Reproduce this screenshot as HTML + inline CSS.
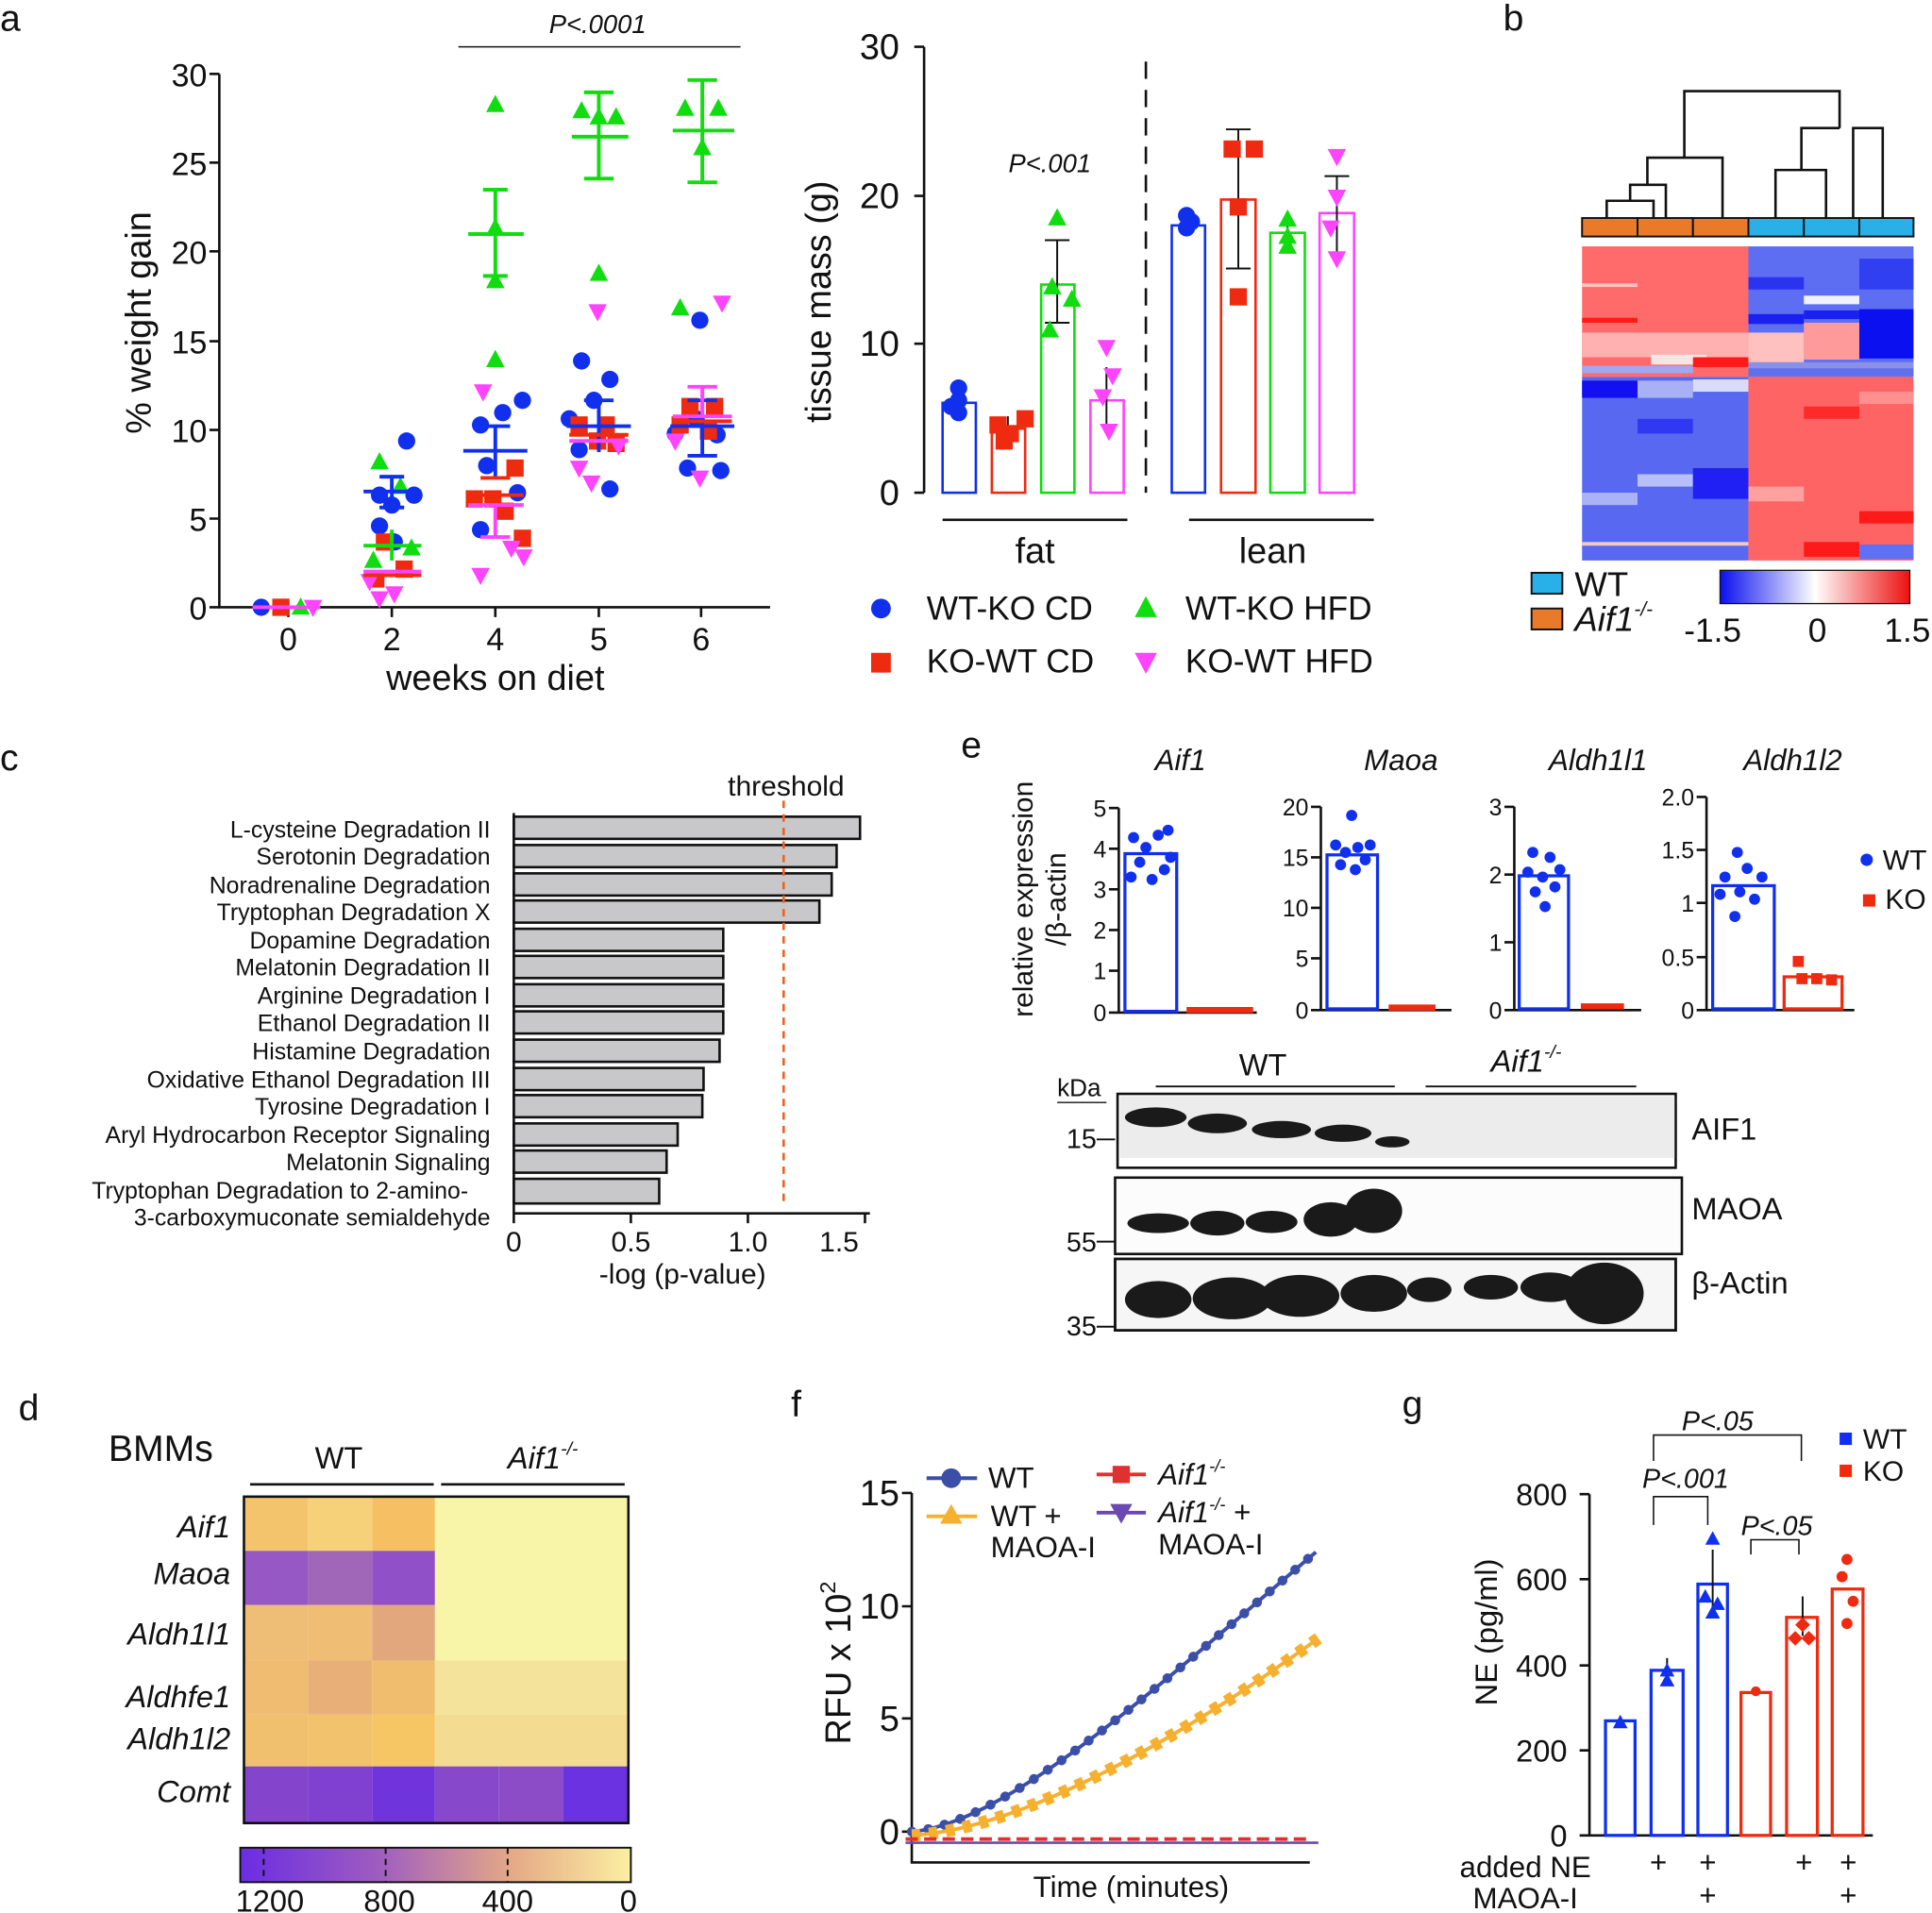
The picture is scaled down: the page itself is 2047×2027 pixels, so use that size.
<!DOCTYPE html>
<html><head><meta charset="utf-8"><style>
html,body{margin:0;padding:0;background:#fff}
svg{display:block}
text{font-family:"Liberation Sans",Arial,sans-serif;fill:#111}
.i{font-style:italic}
</style></head><body>
<svg width="2047" height="2027" viewBox="0 0 1568 1553" preserveAspectRatio="none" xmlns="http://www.w3.org/2000/svg">
<defs>
<circle id="c" r="7" fill="#1030ee"/>
<rect id="s" x="-7" y="-7" width="14" height="14" fill="#ee2a10"/>
<polygon id="tu" points="0,-8 7.5,6 -7.5,6" fill="#10dd10"/>
<polygon id="td" points="0,8 7.5,-6 -7.5,-6" fill="#ff44ff"/>
<linearGradient id="bwr" x1="0" x2="1"><stop offset="0" stop-color="#0a10ee"/><stop offset="0.5" stop-color="#ffffff"/><stop offset="1" stop-color="#ee1010"/></linearGradient>
<linearGradient id="pur" x1="0" x2="1"><stop offset="0" stop-color="#6a2de2"/><stop offset="0.35" stop-color="#9e5cc0"/><stop offset="0.7" stop-color="#e5aa86"/><stop offset="1" stop-color="#fcefa2"/></linearGradient>
</defs>

<text x="0" y="25" font-size="30">a</text>
<text x="1220" y="25" font-size="30">b</text>
<text x="0" y="625" font-size="30">c</text>
<text x="780" y="615" font-size="30">e</text>
<text x="15" y="1153" font-size="30">d</text>
<text x="642" y="1150" font-size="30">f</text>
<text x="1138" y="1150" font-size="30">g</text>

<!-- ===== panel a left ===== -->
<g stroke="#111" stroke-width="2" fill="none">
<path d="M178,60 V493 H625"/>
<path d="M170,60H178M170,132H178M170,204H178M170,277H178M170,349H178M170,421H178M170,493H178"/>
<path d="M234,493v8M318,493v8M402,493v8M486,493v8M569,493v8"/>
<path d="M372,38H601" stroke-width="1.2"/>
</g>
<g font-size="26" text-anchor="end">
<text x="168" y="70">30</text><text x="168" y="142">25</text><text x="168" y="214">20</text><text x="168" y="287">15</text><text x="168" y="359">10</text><text x="168" y="431">5</text><text x="168" y="503">0</text>
</g>
<g font-size="26" text-anchor="middle">
<text x="234" y="528">0</text><text x="318" y="528">2</text><text x="402" y="528">4</text><text x="486" y="528">5</text><text x="569" y="528">6</text>
<text x="402" y="560" font-size="29">weeks on diet</text>
<text x="485" y="27" font-size="21" class="i">P&lt;.0001</text>
</g>
<text transform="translate(122,262) rotate(-90)" font-size="29" text-anchor="middle">% weight gain</text>

<use href="#c" x="212" y="493"/><use href="#s" x="228" y="493"/><use href="#tu" x="244" y="493"/><use href="#td" x="254" y="493"/>
<path d="M205,493H260" stroke="#ff44ff" stroke-width="3"/>
<use href="#tu" x="308" y="375"/><use href="#tu" x="325" y="395"/><use href="#tu" x="318" y="440"/><use href="#tu" x="334" y="445"/><use href="#tu" x="303" y="455"/>
<use href="#c" x="308" y="402"/><use href="#c" x="336" y="402"/><use href="#c" x="318" y="410"/><use href="#c" x="308" y="427"/><use href="#c" x="330" y="358"/><use href="#c" x="320" y="440"/>
<use href="#s" x="312" y="440"/><use href="#s" x="328" y="462"/><use href="#s" x="305" y="470"/>
<use href="#td" x="300" y="472"/><use href="#td" x="320" y="482"/><use href="#td" x="308" y="486"/>
<g stroke-width="3" fill="none">
<path d="M295,399H342M308,387H328M318,387V412M308,412H328" stroke="#1030ee"/>
<path d="M295,443H342M318,430V455" stroke="#10dd10"/>
<path d="M295,467H342" stroke="#ee2a10"/>
<path d="M295,464H342" stroke="#ff44ff"/>
</g>
<use href="#tu" x="402" y="85"/><use href="#tu" x="402" y="185"/><use href="#tu" x="402" y="228"/><use href="#tu" x="402" y="292"/>
<use href="#c" x="390" y="345"/><use href="#c" x="424" y="325"/><use href="#c" x="408" y="335"/><use href="#c" x="395" y="378"/><use href="#c" x="390" y="430"/><use href="#c" x="420" y="400"/>
<use href="#s" x="385" y="405"/><use href="#s" x="418" y="380"/><use href="#s" x="400" y="405"/><use href="#s" x="424" y="437"/><use href="#s" x="410" y="415"/>
<use href="#td" x="390" y="467"/><use href="#td" x="415" y="445"/><use href="#td" x="392" y="318"/><use href="#td" x="425" y="452"/>
<g stroke-width="3" fill="none">
<path d="M380,190H425M392,154H412M402,154V224M392,224H412" stroke="#10dd10"/>
<path d="M376,366H428M390,346H414M402,346V388" stroke="#1030ee"/>
<path d="M380,402H425M390,388H414" stroke="#ee2a10"/>
<path d="M380,410H425M402,410V436M390,436H414" stroke="#ff44ff"/>
</g>
<use href="#tu" x="486" y="95"/><use href="#tu" x="500" y="95"/><use href="#tu" x="472" y="90"/><use href="#tu" x="486" y="222"/>
<use href="#c" x="472" y="293"/><use href="#c" x="495" y="308"/><use href="#c" x="482" y="325"/><use href="#c" x="470" y="365"/><use href="#c" x="495" y="397"/><use href="#c" x="462" y="340"/>
<use href="#s" x="470" y="345"/><use href="#s" x="485" y="358"/><use href="#s" x="500" y="360"/><use href="#s" x="492" y="345"/>
<use href="#td" x="485" y="253"/><use href="#td" x="470" y="380"/><use href="#td" x="480" y="392"/><use href="#td" x="502" y="362"/>
<g stroke-width="3" fill="none">
<path d="M464,111H510M474,75H498M486,75V145M474,145H498" stroke="#10dd10"/>
<path d="M460,346H512M474,325H498M486,325V367" stroke="#1030ee"/>
<path d="M462,353H510" stroke="#ee2a10"/>
<path d="M462,358H510" stroke="#ff44ff"/>
</g>
<use href="#tu" x="552" y="250"/><use href="#tu" x="556" y="88"/><use href="#tu" x="583" y="88"/><use href="#tu" x="570" y="120"/>
<use href="#c" x="568" y="260"/><use href="#c" x="548" y="352"/><use href="#c" x="582" y="353"/><use href="#c" x="558" y="380"/><use href="#c" x="585" y="382"/><use href="#c" x="565" y="340"/>
<use href="#s" x="560" y="330"/><use href="#s" x="580" y="330"/><use href="#s" x="552" y="345"/><use href="#s" x="575" y="350"/>
<use href="#td" x="586" y="246"/><use href="#td" x="568" y="388"/><use href="#td" x="548" y="358"/>
<g stroke-width="3" fill="none">
<path d="M546,106H596M558,65H582M570,65V148M558,148H582" stroke="#10dd10"/>
<path d="M544,346H596M558,325H582M558,370H582M570,325V370" stroke="#1030ee"/>
<path d="M546,342H594" stroke="#ee2a10"/>
<path d="M546,338H594M558,314H582M570,314V338" stroke="#ff44ff"/>
</g>

<!-- ===== panel a middle ===== -->
<g stroke="#111" stroke-width="2" fill="none">
<path d="M750,38V400M742,38H750M742,159H750M742,279H750M742,400H750"/>
<path d="M765,422H915M965,422H1115"/>
<path d="M930,50V400" stroke-dasharray="14,9"/>
</g>
<g font-size="29" text-anchor="end">
<text x="730" y="48">30</text><text x="730" y="169">20</text><text x="730" y="289">10</text><text x="730" y="410">0</text>
</g>
<text transform="translate(674,245) rotate(-90)" font-size="29" text-anchor="middle">tissue mass (g)</text>
<text x="840" y="457" font-size="29" text-anchor="middle">fat</text>
<text x="1033" y="457" font-size="29" text-anchor="middle">lean</text>
<text x="852" y="140" font-size="21" class="i" text-anchor="middle">P&lt;.001</text>
<g fill="none" stroke-width="2">
<rect x="765" y="327" width="27" height="73" stroke="#1030ee"/>
<rect x="805" y="348" width="27" height="52" stroke="#ee2a10"/>
<rect x="845" y="231" width="27" height="169" stroke="#10dd10"/>
<rect x="885" y="325" width="27" height="75" stroke="#ff44ff"/>
<rect x="951" y="183" width="27" height="217" stroke="#1030ee"/>
<rect x="991" y="162" width="28" height="238" stroke="#ee2a10"/>
<rect x="1031" y="189" width="28" height="211" stroke="#10dd10"/>
<rect x="1071" y="173" width="28" height="227" stroke="#ff44ff"/>
<path d="M778,310V340M818,338V356M858,195V262M898,298V345M964,175V190M1005,105V218M1045,178V200M1085,143V205" stroke="#111" stroke-width="1.5"/>
<path d="M848,195H868M848,262H868M995,105H1015M995,218H1015M1075,143H1095" stroke="#111" stroke-width="1.5"/>
</g>
<use href="#c" x="778" y="315"/><use href="#c" x="778" y="325"/><use href="#c" x="778" y="335"/><use href="#c" x="772" y="330"/>
<use href="#s" x="810" y="345"/><use href="#s" x="820" y="352"/><use href="#s" x="832" y="340"/><use href="#s" x="815" y="358"/>
<use href="#tu" x="858" y="177"/><use href="#tu" x="870" y="243"/><use href="#tu" x="854" y="233"/><use href="#tu" x="852" y="268"/>
<use href="#td" x="898" y="282"/><use href="#td" x="895" y="322"/><use href="#td" x="900" y="350"/><use href="#td" x="903" y="305"/>
<use href="#c" x="963" y="175"/><use href="#c" x="963" y="185"/><use href="#c" x="967" y="180"/>
<use href="#s" x="1000" y="121"/><use href="#s" x="1018" y="121"/><use href="#s" x="1005" y="168"/><use href="#s" x="1005" y="241"/>
<use href="#tu" x="1045" y="178"/><use href="#tu" x="1045" y="192"/><use href="#tu" x="1045" y="200"/>
<use href="#td" x="1085" y="127"/><use href="#td" x="1085" y="160"/><use href="#td" x="1080" y="185"/><use href="#td" x="1085" y="210"/>
<circle cx="715" cy="494" r="8" fill="#1030ee"/>
<rect x="707" y="530" width="16" height="16" fill="#ee2a10"/>
<polygon points="930,484 939,501 921,501" fill="#10dd10"/>
<polygon points="930,547 939,530 921,530" fill="#ff44ff"/>
<g font-size="27">
<text x="752" y="503">WT-KO CD</text><text x="752" y="546">KO-WT CD</text>
<text x="962" y="503">WT-KO HFD</text><text x="962" y="546">KO-WT HFD</text>
</g>

<!-- ===== panel b ===== -->
<g stroke="#111" stroke-width="2" fill="none">
<path d="M1304,177V163H1342V177M1323,163V150H1352V177M1337,150V128H1398V177M1367,128V74H1494M1441,177V138H1482V177M1504,177V104H1528V177M1462,138V104H1493M1493,104V74"/>
</g>
<rect x="1284" y="177" width="45" height="15" fill="#e87a2a" stroke="#111" stroke-width="1.5"/>
<rect x="1329" y="177" width="45" height="15" fill="#e87a2a" stroke="#111" stroke-width="1.5"/>
<rect x="1374" y="177" width="45" height="15" fill="#e87a2a" stroke="#111" stroke-width="1.5"/>
<rect x="1419" y="177" width="45" height="15" fill="#29b0e8" stroke="#111" stroke-width="1.5"/>
<rect x="1464" y="177" width="45" height="15" fill="#29b0e8" stroke="#111" stroke-width="1.5"/>
<rect x="1509" y="177" width="44" height="15" fill="#29b0e8" stroke="#111" stroke-width="1.5"/>
<rect x="1284" y="200" width="135" height="106" fill="#ff6a6a"/>
<rect x="1284" y="306" width="135" height="149" fill="#5868f0"/>
<rect x="1419" y="200" width="134" height="106" fill="#5d6ef3"/>
<rect x="1419" y="306" width="134" height="149" fill="#ff6464"/>
<g>
<rect x="1284" y="270" width="135" height="20" fill="#ffb0b0"/>
<rect x="1340" y="288" width="45" height="8" fill="#f5e6e6"/>
<rect x="1374" y="290" width="45" height="8" fill="#ff1a1a"/>
<rect x="1284" y="258" width="45" height="4" fill="#ff1a1a"/>
<rect x="1284" y="230" width="45" height="3" fill="#ffc0c0"/>
<rect x="1284" y="297" width="90" height="6" fill="#a0a8f0"/>
<rect x="1284" y="309" width="45" height="14" fill="#1010f0"/>
<rect x="1329" y="309" width="45" height="14" fill="#a8b0f6"/>
<rect x="1374" y="308" width="45" height="10" fill="#d8dcfa"/>
<rect x="1284" y="400" width="45" height="10" fill="#aab2f8"/>
<rect x="1329" y="385" width="45" height="10" fill="#b8c0f8"/>
<rect x="1374" y="380" width="45" height="25" fill="#2020f4"/>
<rect x="1329" y="340" width="45" height="12" fill="#3038f2"/>
<rect x="1284" y="440" width="135" height="3" fill="#f0c8c8"/>
<rect x="1419" y="225" width="45" height="10" fill="#2a34f0"/>
<rect x="1464" y="240" width="45" height="7" fill="#f0f0ff"/>
<rect x="1419" y="255" width="45" height="8" fill="#1a20f0"/>
<rect x="1464" y="252" width="45" height="7" fill="#1a20f0"/>
<rect x="1464" y="262" width="45" height="30" fill="#ff9a9a"/>
<rect x="1419" y="270" width="45" height="25" fill="#ffc0c0"/>
<rect x="1509" y="251" width="44" height="40" fill="#0a10f0"/>
<rect x="1509" y="210" width="44" height="25" fill="#3040f0"/>
<rect x="1419" y="294" width="134" height="5" fill="#8a90e6"/>
<rect x="1419" y="300" width="134" height="5" fill="#6070e8"/>
<rect x="1464" y="330" width="45" height="10" fill="#ff2a2a"/>
<rect x="1509" y="318" width="44" height="10" fill="#ff9090"/>
<rect x="1419" y="395" width="45" height="12" fill="#ffa0a0"/>
<rect x="1509" y="415" width="44" height="10" fill="#ff1a1a"/>
<rect x="1464" y="440" width="45" height="12" fill="#ff1a1a"/>
<rect x="1509" y="442" width="44" height="12" fill="#6070f0"/>
</g>
<rect x="1243" y="465" width="25" height="17" fill="#29b0e8" stroke="#111" stroke-width="1.5"/>
<rect x="1243" y="494" width="25" height="17" fill="#e87a2a" stroke="#111" stroke-width="1.5"/>
<text x="1278" y="484" font-size="28">WT</text>
<text x="1278" y="512" font-size="28" class="i">Aif1<tspan font-size="16" dy="-12">-/-</tspan></text>
<rect x="1396" y="463" width="154" height="27" fill="url(#bwr)" stroke="#111" stroke-width="1"/>
<g font-size="27" text-anchor="middle"><text x="1390" y="521">-1.5</text><text x="1475" y="521">0</text><text x="1548" y="521">1.5</text></g>

<!-- ===== panel c ===== -->
<g font-size="19" text-anchor="end">
<text x="398" y="680">L-cysteine Degradation II</text>
<text x="398" y="702">Serotonin Degradation</text>
<text x="398" y="725">Noradrenaline Degradation</text>
<text x="398" y="747">Tryptophan Degradation X</text>
<text x="398" y="770">Dopamine Degradation</text>
<text x="398" y="792">Melatonin Degradation II</text>
<text x="398" y="815">Arginine Degradation I</text>
<text x="398" y="837">Ethanol Degradation II</text>
<text x="398" y="860">Histamine Degradation</text>
<text x="398" y="883">Oxidative Ethanol Degradation III</text>
<text x="398" y="905">Tyrosine Degradation I</text>
<text x="398" y="928">Aryl Hydrocarbon Receptor Signaling</text>
<text x="398" y="950">Melatonin Signaling</text>
<text x="380" y="973">Tryptophan Degradation to 2-amino-</text>
<text x="398" y="995">3-carboxymuconate semialdehyde</text>
</g>
<g fill="#c8c8ca" stroke="#111" stroke-width="2">
<rect x="417" y="663" width="281" height="18"/>
<rect x="417" y="686" width="262" height="18"/>
<rect x="417" y="709" width="258" height="18"/>
<rect x="417" y="731" width="248" height="18"/>
<rect x="417" y="754" width="170" height="18"/>
<rect x="417" y="776" width="170" height="18"/>
<rect x="417" y="799" width="170" height="18"/>
<rect x="417" y="821" width="170" height="18"/>
<rect x="417" y="844" width="167" height="18"/>
<rect x="417" y="867" width="154" height="18"/>
<rect x="417" y="889" width="153" height="18"/>
<rect x="417" y="912" width="133" height="18"/>
<rect x="417" y="934" width="124" height="18"/>
<rect x="417" y="957" width="118" height="20"/>
</g>
<g stroke="#111" stroke-width="2" fill="none"><path d="M417,660V985H706M512,985v8M607,985v8M702,985v8M417,985v8"/></g>
<path d="M636,650V980" stroke="#f06020" stroke-width="2" stroke-dasharray="6,5"/>
<text x="638" y="646" font-size="23" text-anchor="middle">threshold</text>
<g font-size="23" text-anchor="middle"><text x="417" y="1016">0</text><text x="512" y="1016">0.5</text><text x="607" y="1016">1.0</text><text x="681" y="1016">1.5</text><text x="554" y="1042">-log (p-value)</text></g>

<!-- ===== panel e ===== -->
<text transform="translate(838,730) rotate(-90)" font-size="23" text-anchor="middle">relative expression</text>
<text transform="translate(865,730) rotate(-90)" font-size="23" text-anchor="middle">/β-actin</text>
<g font-size="24" class="i" text-anchor="middle"><text x="958" y="625">Aif1</text><text x="1137" y="625">Maoa</text><text x="1297" y="625">Aldh1l1</text><text x="1455" y="625">Aldh1l2</text></g>
<g stroke="#111" stroke-width="2" fill="none">
<path d="M908,656V822H1020M900,656h8M900,689h8M900,722h8M900,755h8M900,788h8M900,822h8"/>
<path d="M1072,655V820H1178M1064,655h8M1064,696h8M1064,737h8M1064,778h8M1064,820h8"/>
<path d="M1229,655V820H1332M1221,655h8M1221,710h8M1221,765h8M1221,820h8"/>
<path d="M1385,647V820H1505M1377,647h8M1377,690h8M1377,733h8M1377,777h8M1377,820h8"/>
</g>
<g font-size="19" text-anchor="end">
<text x="898" y="663">5</text><text x="898" y="696">4</text><text x="898" y="729">3</text><text x="898" y="762">2</text><text x="898" y="795">1</text><text x="898" y="829">0</text>
<text x="1062" y="662">20</text><text x="1062" y="703">15</text><text x="1062" y="744">10</text><text x="1062" y="785">5</text><text x="1062" y="827">0</text>
<text x="1219" y="662">3</text><text x="1219" y="717">2</text><text x="1219" y="772">1</text><text x="1219" y="827">0</text>
<text x="1375" y="654">2.0</text><text x="1375" y="697">1.5</text><text x="1375" y="740">1</text><text x="1375" y="784">0.5</text><text x="1375" y="827">0</text>
</g>
<g fill="none" stroke-width="2.5">
<rect x="913" y="693" width="42" height="128" stroke="#1030ee"/>
<rect x="1077" y="694" width="41" height="125" stroke="#1030ee"/>
<rect x="1233" y="711" width="40" height="108" stroke="#1030ee"/>
<rect x="1390" y="719" width="50" height="100" stroke="#1030ee"/>
<rect x="1448" y="793" width="47" height="26" stroke="#ee2a10"/>
<path d="M963,820H1017M1127,818H1165M1283,817H1318" stroke="#ee2a10" stroke-width="5"/>
</g>
<g fill="#1030ee">
<circle cx="920" cy="680" r="4.5"/><circle cx="930" cy="688" r="4.5"/><circle cx="940" cy="678" r="4.5"/><circle cx="948" cy="674" r="4.5"/><circle cx="925" cy="700" r="4.5"/><circle cx="935" cy="714" r="4.5"/><circle cx="945" cy="706" r="4.5"/><circle cx="918" cy="712" r="4.5"/><circle cx="950" cy="696" r="4.5"/>
<circle cx="1097" cy="662" r="4.5"/><circle cx="1084" cy="686" r="4.5"/><circle cx="1092" cy="692" r="4.5"/><circle cx="1102" cy="688" r="4.5"/><circle cx="1112" cy="686" r="4.5"/><circle cx="1088" cy="702" r="4.5"/><circle cx="1100" cy="706" r="4.5"/><circle cx="1108" cy="698" r="4.5"/>
<circle cx="1244" cy="692" r="4.5"/><circle cx="1258" cy="696" r="4.5"/><circle cx="1240" cy="708" r="4.5"/><circle cx="1252" cy="712" r="4.5"/><circle cx="1266" cy="706" r="4.5"/><circle cx="1246" cy="724" r="4.5"/><circle cx="1262" cy="720" r="4.5"/><circle cx="1254" cy="736" r="4.5"/>
<circle cx="1410" cy="692" r="4.5"/><circle cx="1400" cy="712" r="4.5"/><circle cx="1418" cy="705" r="4.5"/><circle cx="1430" cy="712" r="4.5"/><circle cx="1396" cy="726" r="4.5"/><circle cx="1412" cy="724" r="4.5"/><circle cx="1424" cy="730" r="4.5"/><circle cx="1408" cy="744" r="4.5"/>
<circle cx="1515" cy="698" r="5"/>
</g>
<g fill="#ee2a10"><rect x="1455" y="776" width="9" height="9"/><rect x="1458" y="790" width="9" height="9"/><rect x="1470" y="790" width="9" height="9"/><rect x="1482" y="791" width="9" height="9"/><rect x="1512" y="726" width="10" height="10"/></g>
<text x="1528" y="706" font-size="23">WT</text><text x="1530" y="738" font-size="23">KO</text>

<!-- western -->
<g stroke="#111" stroke-width="1.5" fill="none"><path d="M938,882H1132M1157,882H1328"/></g>
<text x="1025" y="873" font-size="25" text-anchor="middle">WT</text>
<text x="1210" y="870" font-size="25" class="i">Aif1<tspan font-size="15" dy="-11">-/-</tspan></text>
<text x="858" y="890" font-size="20">kDa</text><path d="M858,895H898" stroke="#111" stroke-width="1"/>
<g font-size="22" text-anchor="end"><text x="890" y="932">15</text><text x="890" y="1016">55</text><text x="890" y="1084">35</text></g>
<path d="M890,925H905M890,1008H905M890,1077H905" stroke="#111" stroke-width="1.5"/>
<rect x="907" y="888" width="453" height="60" fill="#fff" stroke="#111" stroke-width="2"/>
<rect x="909" y="890" width="450" height="50" fill="#ececec"/>
<rect x="905" y="956" width="460" height="62" fill="#fcfcfc" stroke="#111" stroke-width="2"/>
<rect x="905" y="1022" width="455" height="58" fill="#f6f6f6" stroke="#111" stroke-width="2"/>
<g fill="#1a1a1a">
<ellipse cx="938" cy="907" rx="25" ry="8"/><ellipse cx="988" cy="912" rx="24" ry="8"/><ellipse cx="1040" cy="917" rx="24" ry="7"/><ellipse cx="1090" cy="920" rx="23" ry="7"/><ellipse cx="1130" cy="927" rx="14" ry="4.5"/>
<ellipse cx="940" cy="993" rx="25" ry="8"/><ellipse cx="988" cy="993" rx="22" ry="10"/><ellipse cx="1032" cy="992" rx="21" ry="9"/><ellipse cx="1080" cy="990" rx="22" ry="14"/><ellipse cx="1115" cy="983" rx="23" ry="18"/>
<ellipse cx="940" cy="1055" rx="27" ry="15"/><ellipse cx="1000" cy="1054" rx="32" ry="17"/><ellipse cx="1055" cy="1052" rx="32" ry="17"/><ellipse cx="1115" cy="1050" rx="27" ry="15"/><ellipse cx="1160" cy="1047" rx="18" ry="10"/>
<ellipse cx="1210" cy="1045" rx="22" ry="10"/><ellipse cx="1258" cy="1045" rx="24" ry="12"/><ellipse cx="1302" cy="1050" rx="32" ry="25"/>
</g>
<rect x="905" y="1022" width="455" height="58" fill="none" stroke="#111" stroke-width="2"/>
<g font-size="25"><text x="1373" y="925">AIF1</text><text x="1373" y="990">MAOA</text><text x="1373" y="1050">β-Actin</text></g>

<!-- ===== panel d ===== -->
<text x="88" y="1186" font-size="30">BMMs</text>
<text x="275" y="1192" font-size="25" text-anchor="middle">WT</text>
<text x="412" y="1192" font-size="25" class="i">Aif1<tspan font-size="15" dy="-11">-/-</tspan></text>
<path d="M203,1205H352M358,1205H507" stroke="#111" stroke-width="2"/>
<g>
<rect x="198" y="1215" width="52" height="44" fill="#f4c46c"/><rect x="250" y="1215" width="52" height="44" fill="#f7d07a"/><rect x="302" y="1215" width="51" height="44" fill="#f6c062"/>
<rect x="198" y="1259" width="52" height="44" fill="#9558c4"/><rect x="250" y="1259" width="52" height="44" fill="#a066b8"/><rect x="302" y="1259" width="51" height="44" fill="#9050c8"/>
<rect x="198" y="1303" width="52" height="45" fill="#eebd76"/><rect x="250" y="1303" width="52" height="45" fill="#efbe74"/><rect x="302" y="1303" width="51" height="45" fill="#e2a77c"/>
<rect x="198" y="1348" width="52" height="44" fill="#efbc72"/><rect x="250" y="1348" width="52" height="44" fill="#e8b078"/><rect x="302" y="1348" width="51" height="44" fill="#f0bd6e"/>
<rect x="198" y="1392" width="52" height="42" fill="#f1c06e"/><rect x="250" y="1392" width="52" height="42" fill="#f2c26c"/><rect x="302" y="1392" width="51" height="42" fill="#f6c664"/>
<rect x="198" y="1434" width="52" height="46" fill="#8444cc"/><rect x="250" y="1434" width="52" height="46" fill="#8040d0"/><rect x="302" y="1434" width="51" height="46" fill="#7034dc"/>
<rect x="353" y="1215" width="157" height="133" fill="#f8f5a8"/>
<rect x="353" y="1348" width="157" height="44" fill="#f4e39a"/>
<rect x="353" y="1392" width="157" height="42" fill="#f3dc92"/>
<rect x="353" y="1434" width="52" height="46" fill="#8848cc"/><rect x="405" y="1434" width="52" height="46" fill="#8c4cc8"/><rect x="457" y="1434" width="53" height="46" fill="#6a32e0"/>
<rect x="198" y="1215" width="312" height="265" fill="none" stroke="#111" stroke-width="2"/>
</g>
<g font-size="25" class="i" text-anchor="end">
<text x="187" y="1248">Aif1</text><text x="187" y="1286">Maoa</text><text x="187" y="1335">Aldh1l1</text><text x="187" y="1386">Aldhfe1</text><text x="187" y="1420">Aldh1l2</text><text x="187" y="1463">Comt</text>
</g>
<rect x="195" y="1500" width="317" height="28" fill="url(#pur)" stroke="#111" stroke-width="1.5"/>
<path d="M214,1500V1528M313,1500V1528M412,1500V1528" stroke="#111" stroke-width="1.5" stroke-dasharray="5,4"/>
<g font-size="25" text-anchor="middle"><text x="219" y="1552">1200</text><text x="316" y="1552">800</text><text x="412" y="1552">400</text><text x="510" y="1552">0</text></g>

<!-- ===== panel f ===== -->
<g stroke="#111" stroke-width="2" fill="none"><path d="M740,1212V1512H1063M732,1212h8M732,1304h8M732,1395h8M732,1487h8"/></g>
<g font-size="29" text-anchor="end"><text x="730" y="1222">15</text><text x="730" y="1314">10</text><text x="730" y="1405">5</text><text x="730" y="1497">0</text></g>
<text transform="translate(690,1350) rotate(-90)" font-size="29" text-anchor="middle">RFU x 10<tspan font-size="18" dy="-12">2</tspan></text>
<text x="918" y="1540" font-size="24" text-anchor="middle">Time (minutes)</text>
<path d="M740,1487 C820,1480 950,1360 1068,1260" stroke="#3b4fa8" stroke-width="3" fill="none"/>
<path d="M740,1487 C820,1480 950,1360 1068,1260" stroke="#3b4fa8" stroke-width="8" stroke-linecap="round" stroke-dasharray="0.1,13.5" fill="none"/>
<path d="M740,1490 C830,1485 960,1410 1070,1330" stroke="#f5b030" stroke-width="3" fill="none"/>
<path d="M740,1490 C830,1485 960,1410 1070,1330" stroke="#f5b030" stroke-width="10" stroke-dasharray="7,7" fill="none"/>
<path d="M735,1493H1060" stroke="#e03030" stroke-width="3" stroke-dasharray="10,5"/>
<path d="M735,1496H1070" stroke="#6a4ab0" stroke-width="2"/>
<path d="M752,1200H793" stroke="#3b4fa8" stroke-width="3"/><circle cx="772" cy="1200" r="8" fill="#3b4fa8"/>
<path d="M752,1231H793" stroke="#f5b030" stroke-width="3"/><polygon points="772,1221 781,1237 763,1237" fill="#f5b030"/>
<path d="M890,1197H930" stroke="#e03030" stroke-width="3"/><rect x="903" y="1190" width="14" height="14" fill="#e03030"/>
<path d="M890,1228H930" stroke="#6a4ab0" stroke-width="3"/><polygon points="910,1237 919,1221 901,1221" fill="#6a4ab0"/>
<g font-size="24">
<text x="802" y="1208">WT</text><text x="804" y="1239">WT +</text><text x="804" y="1264">MAOA-I</text>
<text x="940" y="1205" class="i">Aif1<tspan font-size="14" dy="-10">-/-</tspan></text>
<text x="940" y="1236" class="i">Aif1<tspan font-size="14" dy="-10">-/-</tspan><tspan font-style="normal" dy="10"> +</tspan></text>
<text x="940" y="1262">MAOA-I</text>
</g>

<!-- ===== panel g ===== -->
<g stroke="#111" stroke-width="2" fill="none"><path d="M1290,1213V1490H1520M1282,1213h8M1282,1282h8M1282,1352h8M1282,1421h8M1282,1490h8"/>
<path d="M1342,1238V1215H1386V1238M1421,1262V1250H1460V1262M1342,1186V1165H1462V1186" stroke-width="1.2"/></g>
<g font-size="25" text-anchor="end"><text x="1272" y="1222">800</text><text x="1272" y="1291">600</text><text x="1272" y="1361">400</text><text x="1272" y="1430">200</text><text x="1272" y="1499">0</text></g>
<text transform="translate(1215,1325) rotate(-90)" font-size="25" text-anchor="middle">NE (pg/ml)</text>
<g font-size="22" class="i" text-anchor="middle"><text x="1368" y="1208">P&lt;.001</text><text x="1442" y="1246">P&lt;.05</text><text x="1394" y="1161">P&lt;.05</text></g>
<g fill="none" stroke-width="2.5">
<rect x="1303" y="1397" width="24" height="93" stroke="#1030ee"/>
<rect x="1340" y="1356" width="26" height="134" stroke="#1030ee"/>
<rect x="1378" y="1286" width="24" height="204" stroke="#1030ee"/>
<rect x="1413" y="1374" width="24" height="116" stroke="#ee2a10"/>
<rect x="1450" y="1313" width="25" height="177" stroke="#ee2a10"/>
<rect x="1487" y="1290" width="25" height="200" stroke="#ee2a10"/>
<path d="M1390,1258V1310M1463,1296V1328M1353,1346V1366" stroke="#111" stroke-width="1.5"/>
</g>
<g fill="#1030ee"><polygon points="1315,1392 1321,1403 1309,1403"/><polygon points="1353,1350 1359,1361 1347,1361"/><polygon points="1353,1358 1359,1369 1347,1369"/><polygon points="1390,1243 1396,1254 1384,1254"/><polygon points="1384,1290 1390,1301 1378,1301"/><polygon points="1394,1296 1400,1307 1388,1307"/><polygon points="1390,1303 1396,1314 1384,1314"/></g>
<g fill="#ee2a10"><circle cx="1425" cy="1373" r="4"/><polygon points="1463,1313 1469,1319 1463,1325 1457,1319"/><polygon points="1457,1324 1463,1330 1457,1336 1451,1330"/><polygon points="1468,1324 1474,1330 1468,1336 1462,1330"/><circle cx="1499" cy="1266" r="4.5"/><circle cx="1495" cy="1280" r="4.5"/><circle cx="1504" cy="1300" r="4.5"/><circle cx="1499" cy="1318" r="4.5"/></g>
<rect x="1493" y="1163" width="10" height="10" fill="#1030ee"/><rect x="1493" y="1189" width="10" height="10" fill="#ee2a10"/>
<text x="1512" y="1176" font-size="23">WT</text><text x="1512" y="1202" font-size="23">KO</text>
<g font-size="24" text-anchor="middle">
<text x="1238" y="1524">added NE</text><text x="1238" y="1549">MAOA-I</text>
<text x="1346" y="1520">+</text><text x="1386" y="1520">+</text><text x="1464" y="1520">+</text><text x="1500" y="1520">+</text>
<text x="1386" y="1547">+</text><text x="1500" y="1547">+</text>
</g>
</svg>
</body></html>
